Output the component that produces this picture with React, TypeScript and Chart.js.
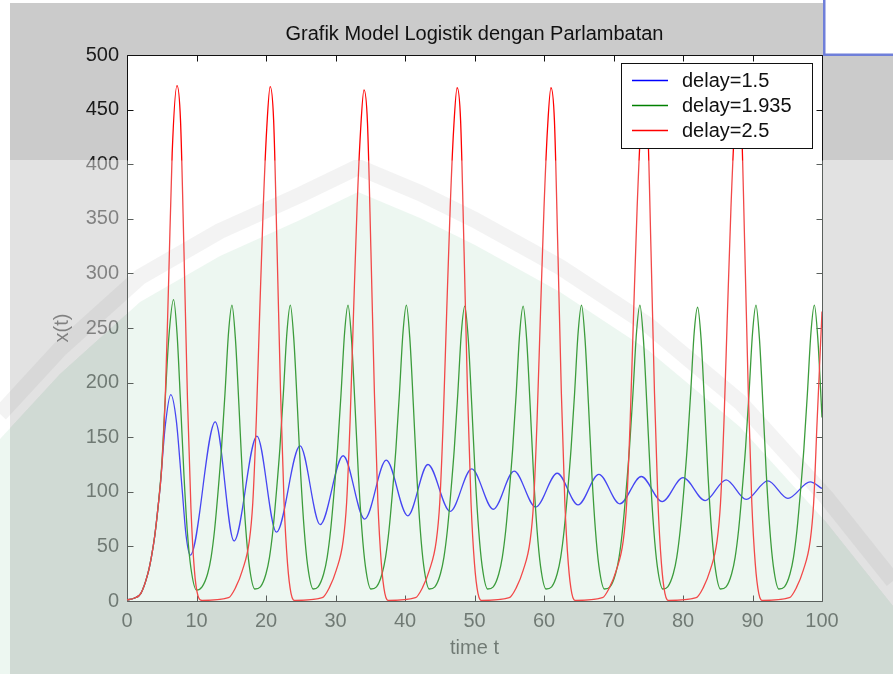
import { useEffect, useRef } from "react";
import { Chart, registerables } from "chart.js";

Chart.register(...registerables);

// ---------- data ----------
const chartTitle = "Grafik Model Logistik dengan Parlambatan";
const xAxisTitle = "time t";
const yAxisTitle = "x(t)";
const seriesNames = ["delay=1.5", "delay=1.935", "delay=2.5"];
const xTickValues = [0, 10, 20, 30, 40, 50, 60, 70, 80, 90, 100];
const yTickValues = [0, 50, 100, 150, 200, 250, 300, 350, 400, 450, 500];

// delay = 1.5 (time, x)
const blueSeries: [number, number][] = [
  [0, 1], [1, 2.5], [2, 7], [3, 25], [3.5, 40], [4, 60], [4.5, 88], [4.75, 103],
  [5.5, 160], [6.3, 189], [7.1, 165], [7.9, 105], [8.5, 60], [9.1, 42],
  [12.7, 164], [15.4, 55], [18.7, 151], [21.5, 63], [24.9, 142], [27.8, 70],
  [31.1, 133], [34.2, 75], [37.3, 129], [40.4, 78], [43.3, 125], [46.5, 82],
  [49.6, 121], [52.7, 84], [55.7, 119], [58.8, 86], [61.9, 117], [64.9, 88],
  [67.9, 116], [70.9, 89], [74.0, 114], [77.0, 91], [80.0, 113], [83.2, 92],
  [86.2, 111], [89.1, 93], [92.2, 110], [95.1, 94], [98.3, 109], [100, 103],
];

// delay = 1.935 (time, x)
const greenSeries: [number, number][] = [
  [0, 1], [1, 2.5], [2, 7], [3, 25], [3.5, 40], [4, 60], [4.5, 88], [5, 125], [5.5, 185], [6.0, 240],
  [6.7, 276], [7.2, 245], [7.7, 182], [8.2, 115], [8.7, 62], [9.2, 30], [10.0, 10],
  [10.8, 13], [11.6, 25], [12.1, 40], [12.6, 65], [13.1, 100], [13.6, 140], [14.1, 190], [14.6, 245],
  [15.1, 271], [15.6, 240], [16.1, 180], [16.6, 115], [17.1, 65], [17.6, 32], [18.4, 11],
  [19.2, 13], [20.0, 25], [20.5, 40], [21.0, 65], [21.5, 100], [22.0, 140], [22.5, 190], [23.0, 245],
  [23.5, 271], [24.0, 240], [24.5, 180], [25.0, 115], [25.5, 65], [26.0, 32], [26.8, 11],
  [27.5, 13], [28.3, 25], [28.8, 40], [29.3, 65], [29.8, 100], [30.3, 140], [30.8, 190], [31.3, 245],
  [31.8, 271], [32.3, 240], [32.8, 180], [33.3, 115], [33.8, 65], [34.3, 32], [35.1, 11],
  [35.9, 13], [36.7, 25], [37.2, 40], [37.7, 65], [38.2, 100], [38.7, 140], [39.2, 190], [39.7, 245],
  [40.2, 271], [40.7, 240], [41.2, 180], [41.7, 115], [42.2, 65], [42.7, 32], [43.5, 11],
  [44.3, 13], [45.1, 25], [45.6, 40], [46.1, 65], [46.6, 100], [47.1, 140], [47.6, 190], [48.1, 245],
  [48.6, 270], [49.1, 240], [49.6, 180], [50.1, 115], [50.6, 65], [51.1, 32], [51.9, 11],
  [52.7, 13], [53.5, 25], [54.0, 40], [54.5, 65], [55.0, 100], [55.5, 140], [56.0, 190], [56.5, 245],
  [57.0, 270], [57.5, 240], [58.0, 180], [58.5, 115], [59.0, 65], [59.5, 32], [60.3, 11],
  [61.1, 13], [61.9, 25], [62.4, 40], [62.9, 65], [63.4, 100], [63.9, 140], [64.4, 190], [64.9, 245],
  [65.4, 271], [65.9, 240], [66.4, 180], [66.9, 115], [67.4, 65], [67.9, 32], [68.7, 11],
  [69.5, 13], [70.3, 25], [70.8, 40], [71.3, 65], [71.8, 100], [72.3, 140], [72.8, 190], [73.3, 245],
  [73.8, 271], [74.3, 240], [74.8, 180], [75.3, 115], [75.8, 65], [76.3, 32], [77.1, 11],
  [77.8, 13], [78.6, 25], [79.1, 40], [79.6, 65], [80.1, 100], [80.6, 140], [81.1, 190], [81.6, 245],
  [82.1, 269], [82.6, 240], [83.1, 180], [83.6, 115], [84.1, 65], [84.6, 32], [85.4, 11],
  [86.2, 13], [87.0, 25], [87.5, 40], [88.0, 65], [88.5, 100], [89.0, 140], [89.5, 190], [90.0, 245],
  [90.5, 271], [91.0, 240], [91.5, 180], [92.0, 115], [92.5, 65], [93.0, 32], [93.8, 11],
  [94.6, 13], [95.4, 25], [95.9, 40], [96.4, 65], [96.9, 100], [97.4, 140], [97.9, 190], [98.4, 245],
  [98.9, 271], [99.4, 240], [100, 168],
];

// delay = 2.5 (time, x)
const redSeries: [number, number][] = [
  [0, 1], [1, 2.5], [2, 7], [3, 25], [3.5, 40], [4, 60], [4.5, 88], [5, 122], [5.5, 185], [6.0, 295],
  [6.5, 410], [7.2, 472], [7.7, 440], [8.2, 320], [8.7, 185], [9.2, 85], [9.7, 28], [10.2, 5], [10.8, 0.5],
  [14.6, 3], [15.6, 12], [16.6, 28], [17.6, 55], [18.1, 90], [18.6, 165], [19.1, 265], [19.6, 360], [20.1, 432],
  [20.6, 471], [21.1, 440], [21.6, 320], [22.1, 190], [22.6, 90], [23.1, 34], [23.6, 7], [24.2, 0.5],
  [28.1, 3], [29.1, 12], [30.1, 28], [31.1, 55], [31.6, 90], [32.1, 165], [32.6, 265], [33.1, 360], [33.6, 430],
  [34.1, 468], [34.6, 438], [35.1, 320], [35.6, 190], [36.1, 90], [36.6, 34], [37.1, 7], [37.7, 0.5],
  [41.5, 3], [42.5, 12], [43.5, 28], [44.5, 55], [45.0, 90], [45.5, 165], [46.0, 265], [46.5, 360], [47.0, 432],
  [47.5, 470], [48.0, 440], [48.5, 320], [49.0, 190], [49.5, 90], [50.0, 34], [50.5, 7], [51.1, 0.5],
  [55.0, 3], [56.0, 12], [57.0, 28], [58.0, 55], [58.5, 90], [59.0, 165], [59.5, 265], [60.0, 360], [60.5, 432],
  [61.0, 470], [61.5, 440], [62.0, 320], [62.5, 190], [63.0, 90], [63.5, 34], [64.0, 7], [64.6, 0.5],
  [68.4, 3], [69.4, 12], [70.4, 28], [71.4, 55], [71.9, 90], [72.4, 165], [72.9, 265], [73.4, 360], [73.9, 432],
  [74.4, 469], [74.9, 440], [75.4, 320], [75.9, 190], [76.4, 90], [76.9, 34], [77.4, 7], [78.0, 0.5],
  [81.9, 3], [82.9, 12], [83.9, 28], [84.9, 55], [85.4, 90], [85.9, 165], [86.4, 265], [86.9, 360], [87.4, 432],
  [87.9, 470], [88.4, 440], [88.9, 320], [89.4, 190], [89.9, 90], [90.4, 34], [90.9, 7], [91.5, 0.5],
  [95.3, 3], [96.3, 12], [97.3, 28], [98.3, 55], [98.8, 90], [99.3, 165], [100, 265],
];

// ---------- styling ----------
const FONT = "'Liberation Sans', Arial, Helvetica, sans-serif";
const TOP_COLORS = ["#0000ff", "#008000", "#ff0000"];
const LOW_COLORS = ["#4646f2", "#3c9c3c", "#f24848"];
const VEIL_Y = 160;
// watermark arch outline (decoration only)
const ROOF: [number, number][] = [
  [0, 405], [60, 340], [140, 268], [220, 222], [300, 186], [358, 158], [420, 184],
  [475, 211], [560, 258], [648, 316], [740, 393], [826, 488], [893, 572],
];

function splitGradient(ctx: CanvasRenderingContext2D, h: number, top: string, low: string) {
  const g = ctx.createLinearGradient(0, 0, 0, h);
  g.addColorStop(0, top);
  g.addColorStop(VEIL_Y / h, top);
  g.addColorStop((VEIL_Y + 1) / h, low);
  g.addColorStop(1, low);
  return g;
}

function roofPath(ctx: CanvasRenderingContext2D, dy: number) {
  ROOF.forEach(([x, y], i) => (i === 0 ? ctx.moveTo(x, y + dy) : ctx.lineTo(x, y + dy)));
}

const decorPlugin = {
  id: "decor",
  beforeDraw(chart: any) {
    const { ctx, chartArea: a, width, height } = chart;
    ctx.save();
    ctx.fillStyle = "#ffffff";
    ctx.fillRect(0, 0, width, height);
    ctx.fillStyle = "#cbcbcb";
    ctx.fillRect(10, 3, width - 10, height - 3);
    ctx.fillStyle = "#ffffff";
    ctx.fillRect(825, 0, width - 825, 54);
    ctx.fillStyle = "#6f7fd9";
    ctx.fillRect(823, 0, 2.5, 56);
    ctx.fillRect(823, 53.5, width - 823, 2.5);
    ctx.fillStyle = "#ffffff";
    ctx.fillRect(a.left, a.top, a.right - a.left, a.bottom - a.top);
    ctx.restore();
  },
  beforeDatasetsDraw(chart: any) {
    const { ctx, chartArea: a, width, height, scales } = chart;
    // watermark veil
    ctx.save();
    ctx.beginPath();
    ctx.rect(0, VEIL_Y, width, height - VEIL_Y);
    ctx.clip();
    ctx.beginPath();
    ctx.moveTo(0, 0);
    ctx.lineTo(width, 0);
    for (let i = ROOF.length - 1; i >= 0; i--) ctx.lineTo(ROOF[i][0], ROOF[i][1] + 34);
    ctx.closePath();
    ctx.fillStyle = "rgba(255,255,255,0.45)";
    ctx.fill();
    ctx.beginPath();
    roofPath(ctx, 34);
    ctx.lineTo(width, height);
    ctx.lineTo(0, height);
    ctx.closePath();
    ctx.fillStyle = "rgba(214,238,225,0.45)";
    ctx.fill();
    ctx.beginPath();
    roofPath(ctx, 9);
    ctx.lineJoin = "round";
    ctx.strokeStyle = "rgba(120,120,120,0.09)";
    ctx.lineWidth = 16;
    ctx.stroke();
    ctx.restore();

    // axes box and inward ticks
    ctx.save();
    ctx.strokeStyle = splitGradient(ctx, height, "#111111", "#5a5f5c");
    ctx.lineWidth = 1;
    const L = Math.round(a.left) + 0.5;
    const R = Math.round(a.right) + 0.5;
    const T = Math.round(a.top) + 0.5;
    const B = Math.round(a.bottom) + 0.5;
    ctx.beginPath();
    ctx.rect(L, T, R - L, B - T);
    const tl = 6;
    xTickValues.forEach((v) => {
      const x = Math.round(scales.x.getPixelForValue(v)) + 0.5;
      ctx.moveTo(x, B);
      ctx.lineTo(x, B - tl);
      ctx.moveTo(x, T);
      ctx.lineTo(x, T + tl);
    });
    yTickValues.forEach((v) => {
      const y = Math.round(scales.y.getPixelForValue(v)) + 0.5;
      ctx.moveTo(L, y);
      ctx.lineTo(L + tl, y);
      ctx.moveTo(R, y);
      ctx.lineTo(R - tl, y);
    });
    ctx.stroke();
    ctx.restore();
  },
  afterDatasetsDraw(chart: any) {
    const { ctx } = chart;
    ctx.save();
    const bx = 621.5, by = 63.5, bw = 191, bh = 85;
    ctx.fillStyle = "#ffffff";
    ctx.fillRect(bx, by, bw, bh);
    ctx.strokeStyle = "#111111";
    ctx.lineWidth = 1;
    ctx.strokeRect(bx, by, bw, bh);
    const rows = [80, 105, 130];
    ctx.font = `20px ${FONT}`;
    ctx.textBaseline = "middle";
    ctx.textAlign = "left";
    seriesNames.forEach((name, i) => {
      ctx.beginPath();
      ctx.strokeStyle = TOP_COLORS[i];
      ctx.lineWidth = 1.3;
      ctx.moveTo(632, rows[i] + 0.5);
      ctx.lineTo(668, rows[i] + 0.5);
      ctx.stroke();
      ctx.fillStyle = "#111111";
      ctx.fillText(name, 682, rows[i] + 1);
    });
    ctx.restore();
  },
};

export default function App() {
  const canvasRef = useRef<HTMLCanvasElement | null>(null);

  useEffect(() => {
    const canvas = canvasRef.current;
    if (!canvas) return;
    const H = 674;
    const series = [blueSeries, greenSeries, redSeries];
    const chart = new Chart(canvas, {
      type: "line",
      data: {
        datasets: series.map((pts, i) => ({
          label: seriesNames[i],
          data: pts.map(([x, y]) => ({ x, y })),
          borderColor: (c: any) => splitGradient(c.chart.ctx, H, TOP_COLORS[i], LOW_COLORS[i]),
          borderWidth: 1.3,
          pointRadius: 0,
          fill: false,
          cubicInterpolationMode: "monotone" as const,
          order: 2 - i,
        })),
      },
      options: {
        responsive: false,
        animation: false,
        devicePixelRatio: 1,
        layout: { padding: { left: 0, top: 0, right: 71, bottom: 0 } },
        plugins: {
          legend: { display: false },
          tooltip: { enabled: false },
          title: {
            display: true,
            text: chartTitle,
            fullSize: false,
            color: "#111111",
            font: { family: FONT, size: 20, weight: "normal" },
            padding: { top: 22, bottom: 9 },
          },
        },
        scales: {
          x: {
            type: "linear",
            min: 0,
            max: 100,
            grid: { display: false, drawTicks: false },
            border: { display: false },
            afterFit: (s: any) => {
              s.height = 73;
            },
            ticks: {
              stepSize: 10,
              padding: 8,
              color: "#1a1a1a",
              maxRotation: 0,
              font: { family: FONT, size: 20 },
            },
            title: {
              display: true,
              text: xAxisTitle,
              color: "#1a1a1a",
              font: { family: FONT, size: 20 },
              padding: { top: 0, bottom: 14 },
            },
          },
          y: {
            type: "linear",
            min: 0,
            max: 500,
            grid: { display: false, drawTicks: false },
            border: { display: false },
            afterFit: (s: any) => {
              s.width = 127;
            },
            ticks: {
              stepSize: 50,
              padding: 8,
              color: "#1a1a1a",
              font: { family: FONT, size: 20 },
            },
            title: {
              display: true,
              text: yAxisTitle,
              color: "#1a1a1a",
              font: { family: FONT, size: 20 },
              padding: { top: 50, bottom: 0 },
            },
          },
        },
      },
      plugins: [decorPlugin],
    });
    return () => chart.destroy();
  }, []);

  return (
    <div style={{ position: "absolute", left: 0, top: 0, width: 893, height: 674 }}>
      <canvas ref={canvasRef} width={893} height={674} style={{ display: "block", width: 893, height: 674 }} />
    </div>
  );
}
